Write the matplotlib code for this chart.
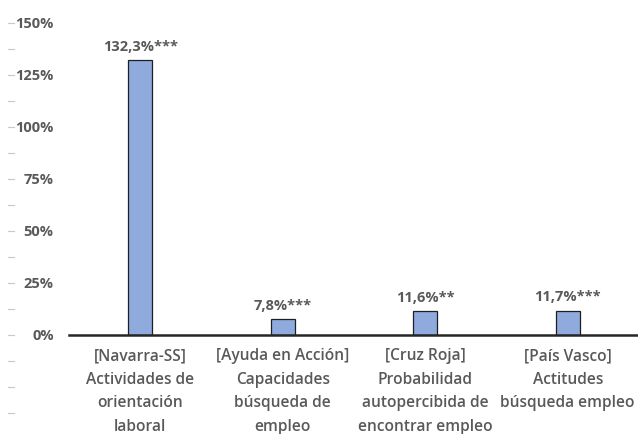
import matplotlib.pyplot as plt
import matplotlib.ticker as mtick

categories = ['[Navarra-SS]\nActividades de\norientación\nlaboral',
              '[Ayuda en Acción]\nCapacidades\nbúsqueda de\nempleo',
              '[Cruz Roja]\nProbabilidad\nautopercibida de\nencontrar empleo',
              '[País Vasco]\nActitudes\nbúsqueda empleo']
values = [132.3, 7.8, 11.6, 11.7]
labels = ['132,3%***', '7,8%***', '11,6%**', '11,7%***']
yticks = [0, 25, 50, 75, 100, 125, 150]

plt.rcParams['font.family'] = ['Open Sans', 'DejaVu Sans']
gray = '#595959'

fig = plt.figure(figsize=(6.38, 4.34), dpi=100)
ax = fig.add_axes([69 / 638, 99 / 434, 570 / 638, 312 / 434])

x = range(len(values))
bars = ax.bar(x, values, width=0.165, color='#8FAADC', edgecolor='#1f1f1f', linewidth=0.9, zorder=3)

for b, lab in zip(bars, labels):
    ax.annotate(lab, (b.get_x() + b.get_width() / 2, b.get_height()),
                xytext=(0, 4.5), textcoords='offset points', ha='center', va='bottom',
                fontsize=10.5, fontweight='bold', color=gray)

ax.set_xlim(-0.5, 3.5)
ax.set_ylim(0, 150)
ax.set_yticks(yticks)
ax.yaxis.set_major_formatter(mtick.PercentFormatter(decimals=0))
ax.tick_params(axis='y', length=0, pad=11, labelsize=10.5, labelcolor=gray)
for t in ax.get_yticklabels():
    t.set_fontweight('bold')

ax.set_xticks(list(x))
ax.set_xticklabels(categories, fontsize=11.2, fontweight='semibold', color=gray, linespacing=1.62)
ax.tick_params(axis='x', length=0, pad=9.5)

for s in ['top', 'right', 'left']:
    ax.spines[s].set_visible(False)
ax.spines['bottom'].set_linewidth(1.8)
ax.spines['bottom'].set_color('#262626')
ax.spines['bottom'].set_zorder(4)

# small dash marks down the left side
trans = ax.get_yaxis_transform()
for k in range(-3, 13):
    yv = k * 12.5
    ax.plot([-0.107, -0.097], [yv, yv], color='#c8c8c8', lw=0.8, transform=trans, clip_on=False)

fig.savefig('out.png', dpi=100)
